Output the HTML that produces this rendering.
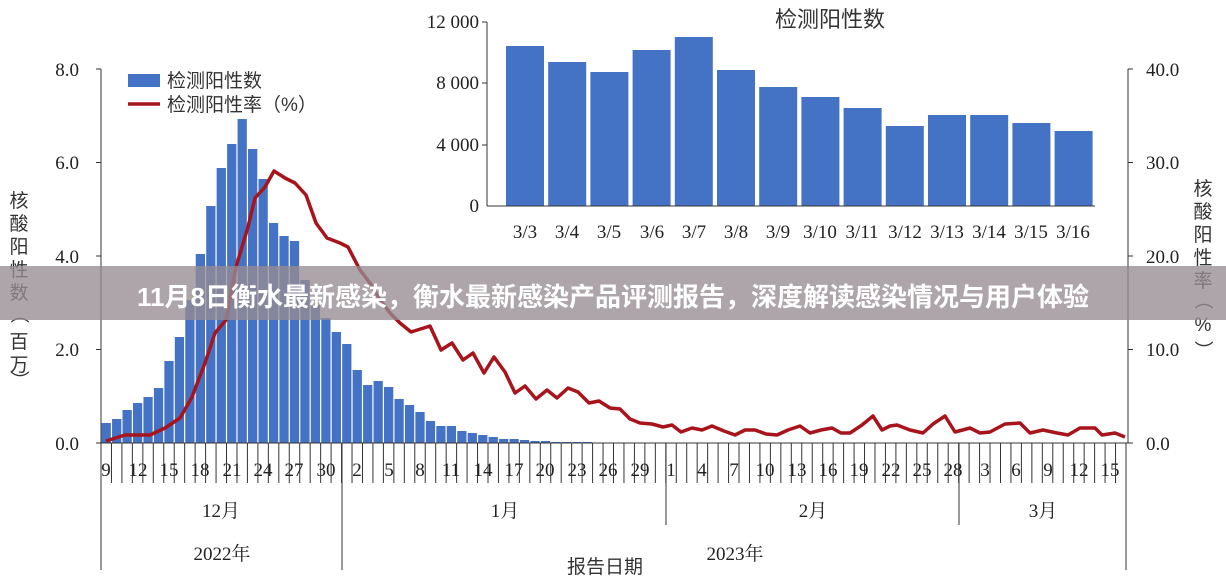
<!DOCTYPE html>
<html><head><meta charset="utf-8"><style>
html,body{margin:0;padding:0;background:#fff;}
svg{display:block;}
.t{font-family:"Liberation Serif","Noto Serif CJK SC",serif;font-size:19px;fill:#222;}
.c{font-family:"Liberation Sans","Noto Sans CJK SC",sans-serif;fill:#333;}
</style></head><body>
<svg id="s" width="1226" height="588" viewBox="0 0 1226 588" xmlns="http://www.w3.org/2000/svg">
<rect width="1226" height="588" fill="#fff"/>
<g id="bars"></g>
<polyline id="line" fill="none" stroke="#A8141C" stroke-width="3.5" stroke-linejoin="round" points=""/>
<g stroke="#333" stroke-width="1">
<line x1="101" y1="69" x2="101" y2="570"/>
<line x1="1128" y1="69" x2="1128" y2="443"/>
<line x1="96" y1="443" x2="1133" y2="443"/>
<line x1="96" y1="69" x2="101" y2="69"/><line x1="96" y1="162.5" x2="101" y2="162.5"/><line x1="96" y1="256" x2="101" y2="256"/><line x1="96" y1="349.5" x2="101" y2="349.5"/>
<line x1="1128" y1="69" x2="1133" y2="69"/><line x1="1128" y1="162.5" x2="1133" y2="162.5"/><line x1="1128" y1="256" x2="1133" y2="256"/><line x1="1128" y1="349.5" x2="1133" y2="349.5"/>
<line x1="1126" y1="443" x2="1126" y2="570"/>
<line x1="342" y1="443" x2="342" y2="570"/>
<line x1="666" y1="443" x2="666" y2="525"/>
<line x1="959" y1="443" x2="959" y2="525"/>
</g>
<g id="ticks" stroke="#333" stroke-width="1"></g>
<g class="t" text-anchor="end">
<text x="79" y="76">8.0</text><text x="79" y="169">6.0</text><text x="79" y="263">4.0</text><text x="79" y="356">2.0</text><text x="79" y="450">0.0</text>
</g>
<g class="t" text-anchor="start">
<text x="1146" y="76">40.0</text><text x="1146" y="169">30.0</text><text x="1146" y="263">20.0</text><text x="1146" y="356">10.0</text><text x="1146" y="450">0.0</text>
</g>
<g class="t" text-anchor="middle">
<text x="106" y="476">9</text><text x="138" y="476">12</text><text x="169" y="476">15</text><text x="200" y="476">18</text><text x="232" y="476">21</text><text x="263" y="476">24</text><text x="294" y="476">27</text><text x="326" y="476">30</text>
<text x="357" y="476">2</text><text x="389" y="476">5</text><text x="420" y="476">8</text><text x="451" y="476">11</text><text x="483" y="476">14</text><text x="514" y="476">17</text><text x="545" y="476">20</text><text x="577" y="476">23</text><text x="608" y="476">26</text><text x="640" y="476">29</text>
<text x="671" y="476">1</text><text x="702" y="476">4</text><text x="734" y="476">7</text><text x="765" y="476">10</text><text x="797" y="476">13</text><text x="828" y="476">16</text><text x="859" y="476">19</text><text x="891" y="476">22</text><text x="922" y="476">25</text><text x="953" y="476">28</text>
<text x="985" y="476">3</text><text x="1016" y="476">6</text><text x="1048" y="476">9</text><text x="1079" y="476">12</text><text x="1110" y="476">15</text>
<text x="221" y="517">12月</text><text x="505" y="517">1月</text><text x="813" y="517">2月</text><text x="1043" y="517">3月</text>
<text x="222" y="560">2022年</text><text x="735" y="560">2023年</text>
</g>
<text class="c" x="605" y="573" text-anchor="middle" font-size="19">报告日期</text>
<g class="c" font-size="19" text-anchor="middle">
<text x="19" y="207">核</text><text x="19" y="230">酸</text><text x="19" y="253">阳</text><text x="19" y="276">性</text><text x="19" y="299">数</text>
<text transform="translate(19,314) rotate(90)" y="6">（</text>
<text x="19" y="348">百</text><text x="19" y="371">万</text>
<text transform="translate(19,380) rotate(90)" y="6">）</text>
<text x="1203" y="195">核</text><text x="1203" y="218">酸</text><text x="1203" y="241">阳</text><text x="1203" y="264">性</text><text x="1203" y="287">率</text>
<text transform="translate(1203,300) rotate(90)" y="6">（</text>
<text x="1203" y="331">%</text>
<text transform="translate(1203,350) rotate(90)" y="6">）</text>
</g>
<rect x="128" y="74" width="32" height="13" fill="#4472C4"/>
<text class="c" x="167" y="87" font-size="19">检测阳性数</text>
<line x1="128" y1="104" x2="160" y2="104" stroke="#A8141C" stroke-width="3.5"/>
<text class="c" x="167" y="111" font-size="19">检测阳性率（%）</text>
<g id="inset"></g>
<line x1="487" y1="22" x2="487" y2="206" stroke="#333"/>
<line x1="487" y1="206" x2="1095" y2="206" stroke="#333"/>
<g stroke="#333"><line x1="482" y1="22" x2="487" y2="22"/><line x1="482" y1="83" x2="487" y2="83"/><line x1="482" y1="145" x2="487" y2="145"/></g>
<g class="t" text-anchor="end">
<text x="479" y="28">12 000</text><text x="479" y="89">8 000</text><text x="479" y="151">4 000</text><text x="479" y="212">0</text>
</g>
<text class="c" x="830" y="27" font-size="22" text-anchor="middle" fill="#555">检测阳性数</text>
<g class="t" text-anchor="middle" font-size="18">
<text x="525" y="238">3/3</text><text x="567" y="238">3/4</text><text x="609" y="238">3/5</text><text x="652" y="238">3/6</text><text x="694" y="238">3/7</text><text x="736" y="238">3/8</text><text x="778" y="238">3/9</text><text x="820" y="238">3/10</text><text x="862" y="238">3/11</text><text x="905" y="238">3/12</text><text x="947" y="238">3/13</text><text x="989" y="238">3/14</text><text x="1031" y="238">3/15</text><text x="1073" y="238">3/16</text>
</g>
<rect x="0" y="266" width="1226" height="54" fill="rgba(150,140,146,0.78)"/>
<text x="613" y="306" text-anchor="middle" font-family="'Liberation Sans','Noto Sans CJK SC',sans-serif" font-weight="bold" font-size="26" textLength="952" lengthAdjust="spacingAndGlyphs" fill="#fff">11月8日衡水最新感染，衡水最新感染产品评测报告，深度解读感染情况与用户体验</text>
</svg>
<script>
var ns="http://www.w3.org/2000/svg",w=(1126-101)/98;
function el(p,n,a){var e=document.createElementNS(ns,n);for(var k in a)e.setAttribute(k,a[k]);p.appendChild(e);}
var tops=[423,419,410,403,397,388,361,337,300,254,206,168,144,119,149,179,223,236,241,280,305,318,332,344,370,385,381,387,399,405,412,421,426,426,431,433,435,437,439,439,440,441,441,442,442,442,442,442.5,442.5,442.5];
var g=document.getElementById('bars');
tops.forEach(function(t,k){el(g,'rect',{x:101+k*w+0.6,y:t,width:w-1.2,height:443-t,fill:'#4472C4'});});
var pts=[[106,441],[125,435],[150,435],[165,428],[180,418],[192,397],[205,363],[215,333],[226,320],[236,267],[248,227],[255,198],[265,187],[274,171],[285,178],[295,183],[306,195],[316,223],[327,238],[340,243],[348,247],[360,270],[370,283],[380,300],[390,313],[400,323],[411,332],[430,326],[441,350],[452,343],[463,360],[473,353],[484,373],[494,357],[505,372],[515,393],[525,386],[536,399],[547,390],[557,398],[568,388],[578,392],[589,403],[599,401],[610,408],[620,409],[630,419],[640,423],[652,424],[663,427],[672,425],[681,432],[692,428],[702,430],[712,426],[724,431],[735,435],[745,430],[755,430],[766,434],[777,435],[788,430],[800,426],[810,433],[821,430],[832,428],[841,433],[850,433],[862,425],[873,416],[882,430],[890,426],[897,425],[910,430],[923,433],[933,424],[945,416],[955,432],[970,428],[980,433],[990,432],[1005,424],[1020,423],[1030,433],[1043,430],[1057,433],[1068,435],[1080,428],[1095,428],[1102,435],[1115,433],[1125,437]];
document.getElementById('line').setAttribute('points',pts.map(function(p){return p.join(',')}).join(' '));
var tk=document.getElementById('ticks');
for(var k=0;k<=98;k++){var x=101+k*w;el(tk,'line',{x1:x,y1:443,x2:x,y2:483});}
var ins=document.getElementById('inset');
var it=[46,62,72,50,37,70,87,97,108,126,115,115,123,131];
it.forEach(function(t,i){var cx=525+i*42.2;el(ins,'rect',{x:cx-19,y:t,width:38,height:206-t,fill:'#4472C4'});});
</script>
</body></html>
